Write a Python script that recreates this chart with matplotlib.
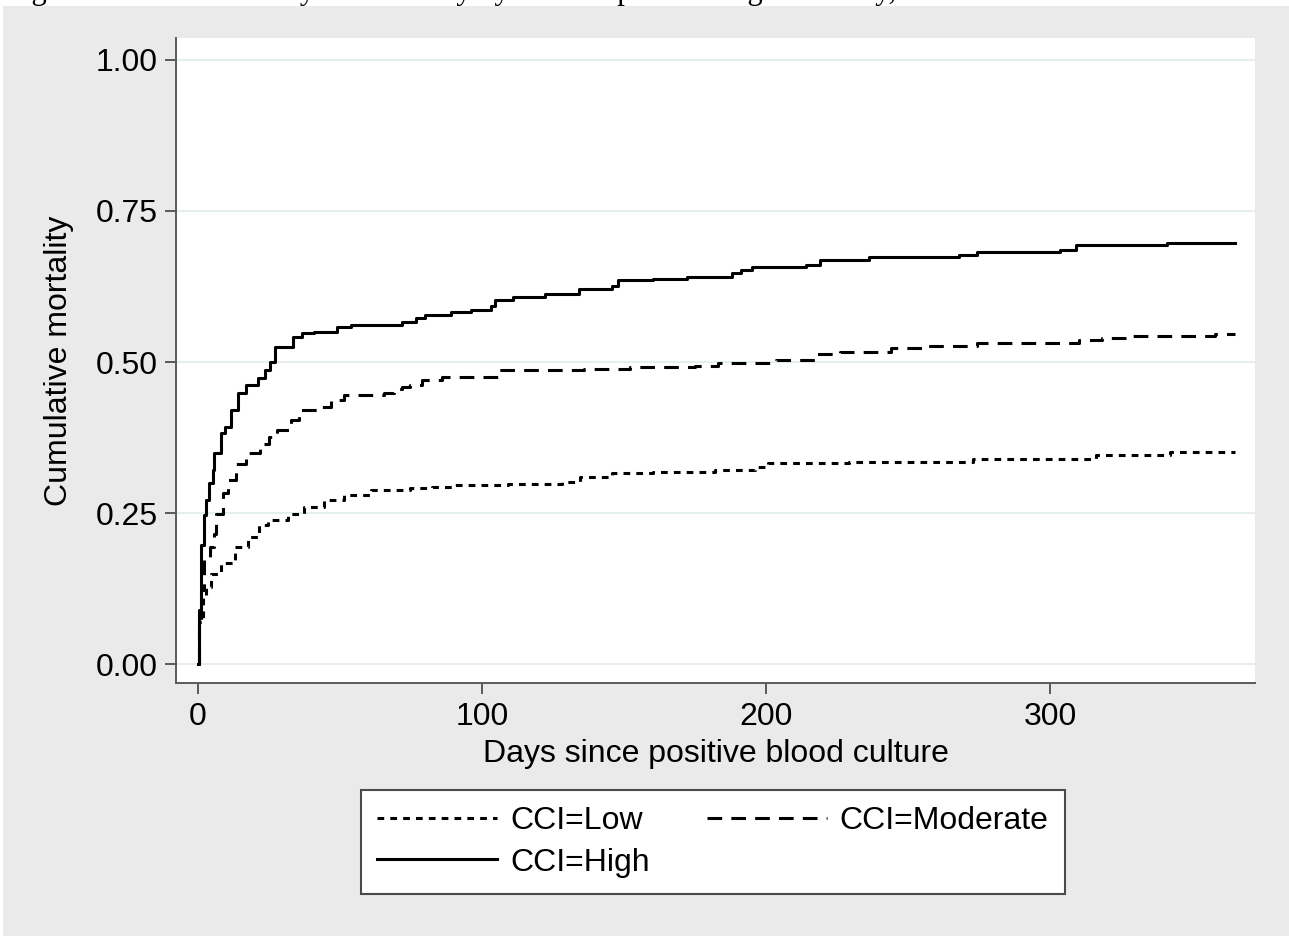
import matplotlib
matplotlib.use('Agg')
import matplotlib.pyplot as plt
from matplotlib.patches import Rectangle

# Kaplan-Meier style cumulative mortality (step points)
low_days = [0, 0.5, 1.75, 2.9, 4.7, 8.2, 12.9, 17.5, 21.6, 24.6, 31.6, 37.4, 44.4, 51.5,
            60.8, 74.8, 82.5, 90.5, 109, 128, 134.6, 145.7, 160, 181.8, 196, 200.5, 229,
            272.8, 316, 342, 365]
low_vals = [0.0, 0.07, 0.111, 0.128, 0.150, 0.167, 0.194, 0.211, 0.230, 0.238, 0.249, 0.260,
            0.2715, 0.280, 0.288, 0.291, 0.2935, 0.2964, 0.299, 0.302, 0.309, 0.3157, 0.318,
            0.321, 0.327, 0.333, 0.335, 0.339, 0.346, 0.3515, 0.3515]

mod_days = [0, 0.5, 1.2, 2.3, 4.1, 5.8, 6.4, 8.8, 10.5, 13.5, 17, 22, 25, 28, 32.7, 35.7, 42,
            46.8, 51.5, 65.5, 69, 72, 74.8, 78.7, 86, 105.6, 136, 152, 175, 183, 203.5, 217.5,
            226, 244, 257, 274, 282, 310, 318, 329, 358, 365]
mod_vals = [0.0, 0.07, 0.123, 0.172, 0.194, 0.216, 0.249, 0.283, 0.305, 0.332, 0.349, 0.365,
            0.376, 0.387, 0.404, 0.420, 0.426, 0.437, 0.445, 0.448, 0.456, 0.459, 0.462, 0.470,
            0.475, 0.486, 0.488, 0.492, 0.493, 0.499, 0.504, 0.513, 0.517, 0.523, 0.527, 0.531,
            0.532, 0.536, 0.539, 0.5436, 0.546, 0.546]

high_days = [0, 0.4, 1.2, 2.1, 2.9, 4.0, 5.2, 5.8, 8.2, 9.4, 11.7, 14, 17, 21, 23.7, 25.4, 27.3,
             33.6, 36.5, 41, 49, 54, 71.8, 76.6, 79.8, 89, 96, 103, 104.5, 111, 122, 134, 145.6,
             148, 160, 172, 188, 191, 195, 214, 219, 236, 268, 274, 303.5, 309, 341, 365]
high_vals = [0.0, 0.09, 0.197, 0.247, 0.272, 0.300, 0.321, 0.349, 0.382, 0.393, 0.420, 0.448,
             0.462, 0.473, 0.487, 0.500, 0.525, 0.542, 0.548, 0.550, 0.558, 0.561, 0.566, 0.572,
             0.578, 0.583, 0.586, 0.592, 0.603, 0.608, 0.612, 0.620, 0.625, 0.635, 0.638, 0.641,
             0.647, 0.652, 0.658, 0.661, 0.669, 0.674, 0.677, 0.682, 0.685, 0.694, 0.6975, 0.6975]

labels = ['CCI=Low', 'CCI=Moderate', 'CCI=High']
yticks = [0, 0.25, 0.5, 0.75, 1.0]
xticks = [0, 100, 200, 300]

caption = 'Figure 3: Cumulative 1-year mortality by level of pre-existing morbidity, 1995-2008'

plt.rcParams['font.family'] = ['Liberation Sans', 'DejaVu Sans']

W, H = 1289, 936
fig = plt.figure(figsize=(W / 100, H / 100), dpi=100, facecolor='white')

# grey graph region (Stata s2color style)
fig.patches.append(Rectangle((3 / W, 0), 1 - 3 / W, 1 - 6 / H, transform=fig.transFigure,
                             facecolor='#eaeaea', edgecolor='none', zorder=-10))
# caption of the document, mostly cut off at the top
fig.text(6 / W, 1 + 1.5 / H, caption, family='Liberation Serif', fontsize=22,
         va='baseline', ha='left')

ax = fig.add_axes([176 / W, 1 - 683 / H, (1255 - 176) / W, (683 - 38) / H])
ax.set_facecolor('white')

lw = 2.2
l_low, = ax.plot(low_days, low_vals, drawstyle='steps-post', color='black', lw=lw,
                 linestyle=(0, (2.2, 2.0)))
l_mod, = ax.plot(mod_days, mod_vals, drawstyle='steps-post', color='black', lw=lw,
                 linestyle=(0, (4.8, 3.0)))
l_high, = ax.plot(high_days, high_vals, drawstyle='steps-post', color='black', lw=lw)

ax.set_xlim(-7.7, 372)
ax.set_ylim(-0.031, 1.036)
ax.set_yticks(yticks)
ax.set_yticklabels([f'{v:.2f}' for v in yticks])
ax.set_xticks(xticks)
ax.yaxis.grid(True, color='#e4eeee', lw=1.3)
ax.set_axisbelow(True)

for s in ['top', 'right']:
    ax.spines[s].set_visible(False)
for s in ['left', 'bottom']:
    ax.spines[s].set_color('#5a5a5a')
    ax.spines[s].set_linewidth(1.4)
ax.tick_params(axis='both', colors='#5a5a5a', length=8, width=1.4, labelsize=23,
               labelcolor='black', pad=5)
ax.tick_params(axis='x', pad=6)

ax.set_xlabel('Days since positive blood culture', fontsize=23, labelpad=5)
ax.set_ylabel('Cumulative mortality', fontsize=23, labelpad=16)

leg = fig.legend([l_low, l_high, l_mod], [labels[0], labels[2], labels[1]], ncol=2,
                 loc='center', bbox_to_anchor=(713 / W, 1 - 842 / H), fontsize=23,
                 frameon=True, fancybox=False, framealpha=1, edgecolor='#4a4a4a',
                 handlelength=3.75, handletextpad=0.4, columnspacing=1.8,
                 labelspacing=0.35, borderpad=0.5)
leg.get_frame().set_linewidth(1.5)

fig.savefig('out.png', dpi=100, facecolor=fig.get_facecolor())
